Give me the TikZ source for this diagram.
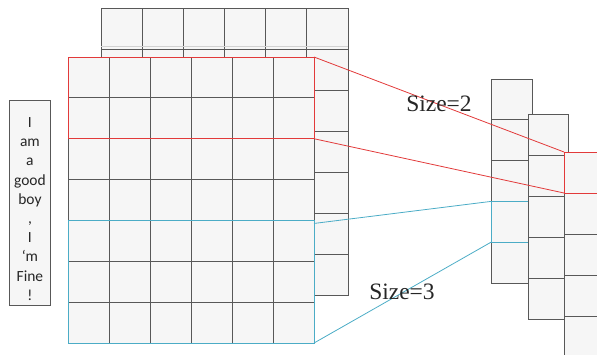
\documentclass[tikz,border=0pt]{standalone}
\usepackage{fontspec}
\setmainfont{Liberation Serif}
\newfontfamily\wordfont{Carlito}
\usetikzlibrary{fit}
\definecolor{gridc}{HTML}{585858}
\definecolor{cellc}{HTML}{F6F6F6}
\definecolor{redc}{HTML}{E23A3A}
\definecolor{bluec}{HTML}{4BACC6}
\begin{document}
\begin{tikzpicture}[x=1pt,y=-1pt,
  cell/.style={draw=gridc, fill=cellc, line width=0.9pt, inner sep=0pt, outer sep=0pt, anchor=north west},
  redbox/.style={draw=redc, line width=1pt, inner sep=0pt, outer sep=0pt},
  bluebox/.style={draw=bluec, line width=1pt, inner sep=0pt, outer sep=0pt},
  redline/.style={draw=redc, line width=0.8pt},
  blueline/.style={draw=bluec, line width=0.8pt},
  sizelabel/.style={font=\fontsize{23.5}{26}\selectfont, text=black!85, inner sep=0pt},
  sentbox/.style={draw=gridc, fill=cellc, line width=0.9pt, minimum width=41pt, minimum height=205pt, inner sep=0pt, anchor=north west}
]
\useasboundingbox (0,0) rectangle (597,354);
\clip (0,0) rectangle (597,354);

% back feature map
\foreach \r in {1,...,7}
  \foreach \c in {1,...,6}
    \node[cell, minimum width=41.17pt, minimum height=41pt] (b-\r-\c) at ({101+(\c-1)*41.17},{8+(\r-1)*41}) {};
\draw[gray!35, line width=0.8pt] (b-1-1.south west) ++(0,-3) -- ++(247,0);

% front feature map
\foreach \r in {1,...,7}
  \foreach \c in {1,...,6}
    \node[cell, minimum width=41pt, minimum height=40.86pt] (f-\r-\c) at ({68+(\c-1)*41},{57+(\r-1)*40.86}) {};

\node[redbox, fit=(f-1-1)(f-2-6)] (redA) {};
\node[bluebox, fit=(f-5-1)(f-7-6)] (blueA) {};

% sentence box
\node[sentbox] (sent) at (9,100) {};
\node[font=\wordfont\fontsize{15.5}{19.2}\selectfont, align=center, inner sep=0pt, text=black!85] (words) at ([yshift=-6pt]sent.center)
  {I\\am\\a\\good\\boy\\,\\I\\‘m\\Fine\\!};

% output columns
\foreach \i in {1,...,5}
  \node[cell, minimum width=41pt, minimum height=40.8pt] (p-\i) at (491,{79+(\i-1)*40.8}) {};
\node[bluebox, fit=(p-4)] (blueB) {};
\foreach \i in {1,...,5}
  \node[cell, minimum width=40pt, minimum height=41pt] (q-\i) at (528,{114+(\i-1)*41}) {};
\foreach \i in {1,...,6}
  \node[cell, minimum width=41pt, minimum height=41pt] (s-\i) at (564,{152+(\i-1)*41}) {};
\node[redbox, fit=(s-1)] (redC) {};

% connectors
\draw[redline] (redA.north east) -- (redC.north west);
\draw[redline] (redA.south east) -- (redC.south west);
\draw[blueline] ([yshift=-3pt]blueA.north east) -- (blueB.north west);
\draw[blueline] (blueA.south east) -- (blueB.south west);

% labels
\node[sizelabel] (size2) at (439,104) {Size=2};
\node[sizelabel] (size3) at (402,292) {Size=3};
\end{tikzpicture}
\end{document}
